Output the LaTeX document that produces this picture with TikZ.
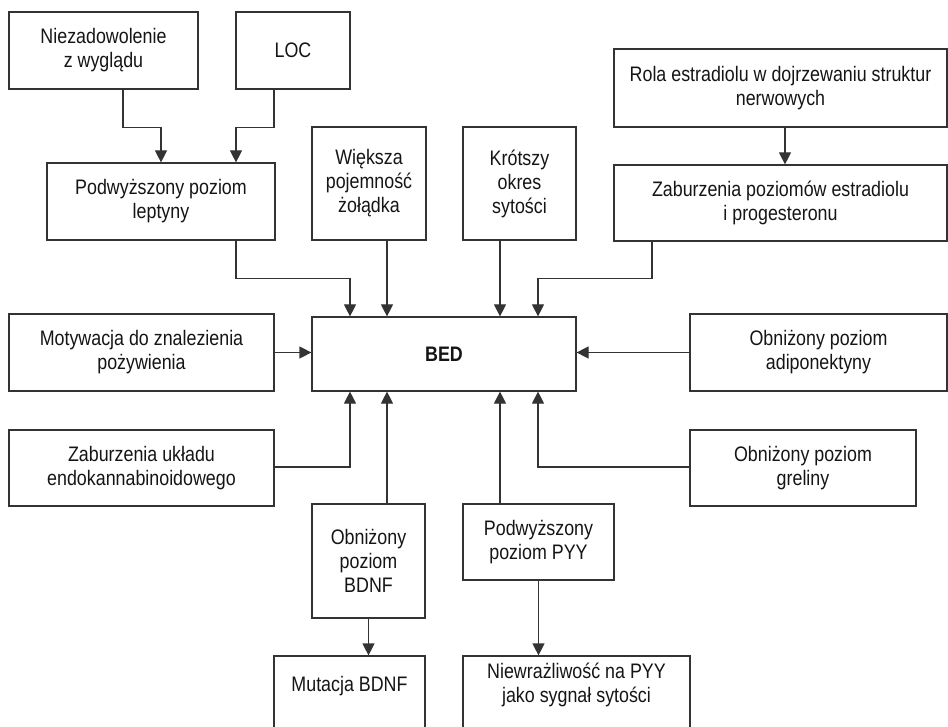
\documentclass[tikz,border=0pt]{standalone}
\usepackage{fontspec}
\setmainfont[FakeStretch=0.85]{Liberation Sans}
\usetikzlibrary{arrows.meta}
\definecolor{ln}{HTML}{333333}
\definecolor{tx}{HTML}{151515}
\tikzset{
  bx/.style={draw=ln, line width=1.2pt, rectangle, inner sep=0pt, align=center,
    text=tx, font=\fontsize{21}{24}\selectfont},
  lbl/.style={text=tx, align=center, font=\fontsize{21}{24}\selectfont},
  arr/.style={draw=ln, line width=1.2pt, -{Triangle[width=12pt,length=12pt]}},
}
\begin{document}
\begin{tikzpicture}[x=1pt,y=-1pt]
\useasboundingbox (0,0) rectangle (948,727);
\clip (0,0) rectangle (948,727);
\fill[white] (0,0) rectangle (948,727);
% boxes: center, width, height
\node[bx, minimum width=189pt, minimum height=77pt] (nie) at (103.5,50.5) {Niezadowolenie\\z wyglądu};
\node[bx, minimum width=114pt, minimum height=77pt] (loc) at (293,50.5) {LOC};
\node[bx, minimum width=228pt, minimum height=77pt] (lep) at (161,201.5) {Podwyższony poziom\\leptyny};
\node[bx, minimum width=114pt, minimum height=113pt] (wie) at (369,183.5) {Większa\\pojemność\\żołądka};
\node[bx, minimum width=113pt, minimum height=113pt] (kro) at (519.5,183.5) {Krótszy\\okres\\sytości};
\node[bx, minimum width=333pt, minimum height=78pt] (rola) at (780.5,88) {Rola estradiolu w dojrzewaniu struktur\\nerwowych};
\node[bx, minimum width=333pt, minimum height=76pt] (zab) at (780.5,203) {Zaburzenia poziomów estradiolu\\i progesteronu};
\node[bx, minimum width=264pt, minimum height=74pt, font=\fontsize{21}{24}\selectfont\bfseries] (bed) at (444,354) {BED};
\node[bx, minimum width=265pt, minimum height=77pt] (mot) at (141.5,352.5) {Motywacja do znalezienia\\pożywienia};
\node[bx, minimum width=257pt, minimum height=77pt] (adi) at (818.5,352.5) {Obniżony poziom\\adiponektyny};
\node[bx, minimum width=265pt, minimum height=76pt] (ecs) at (141.5,468) {Zaburzenia układu\\endokannabinoidowego};
\node[bx, minimum width=226pt, minimum height=76pt] (gre) at (803,468) {Obniżony poziom\\greliny};
\node[bx, minimum width=113pt, minimum height=114pt] (bdnf) at (368.5,561) {Obniżony\\poziom\\BDNF};
\node[bx, minimum width=151pt, minimum height=76pt] (pyy) at (538.5,542) {Podwyższony\\poziom PYY};
\node[bx, minimum width=151pt, minimum height=100pt] (mut) at (349.5,706) {};
\node[bx, minimum width=227pt, minimum height=100pt] (niew) at (576.5,706) {};
\node[lbl] (mutt) at (349.5,686) {Mutacja BDNF};
\node[lbl] (niewt) at (576.5,685) {Niewrażliwość na PYY\\jako sygnał sytości};
% connectors
\draw[arr] ([xshift=19.5pt]nie.south) -- ++(0,38) -| (lep.north);
\draw[arr] ([xshift=-19pt]loc.south) -- ++(0,38) -| ([xshift=75pt]lep.north);
\draw[arr] ([xshift=75pt]lep.south) -- ++(0,38) -| ([xshift=-94pt]bed.north);
\draw[arr] ([xshift=18pt]wie.south) -- ([xshift=-57pt]bed.north);
\draw[arr] ([xshift=-19.5pt]kro.south) -- ([xshift=56pt]bed.north);
\draw[arr] ([xshift=-128.5pt]zab.south) -- ++(0,37) -| ([xshift=94pt]bed.north);
\draw[arr] ([xshift=4.5pt]rola.south) -- ([xshift=4.5pt]zab.north);
\draw[arr] (mot.east) -- (mot.east -| bed.west);
\draw[arr] (adi.west) -- (adi.west -| bed.east);
\draw[arr] ([yshift=1pt]ecs.east) -| ([xshift=-94pt]bed.south);
\draw[arr] ([yshift=1pt]gre.west) -| ([xshift=94pt]bed.south);
\draw[arr] ([xshift=18.5pt]bdnf.north) -- ([xshift=-57pt]bed.south);
\draw[arr] ([xshift=-38.5pt]pyy.north) -- ([xshift=56pt]bed.south);
\draw[arr] (bdnf.south) -- (bdnf.south |- mut.north);
\draw[arr] (pyy.south) -- (pyy.south |- niew.north);
\end{tikzpicture}
\end{document}
